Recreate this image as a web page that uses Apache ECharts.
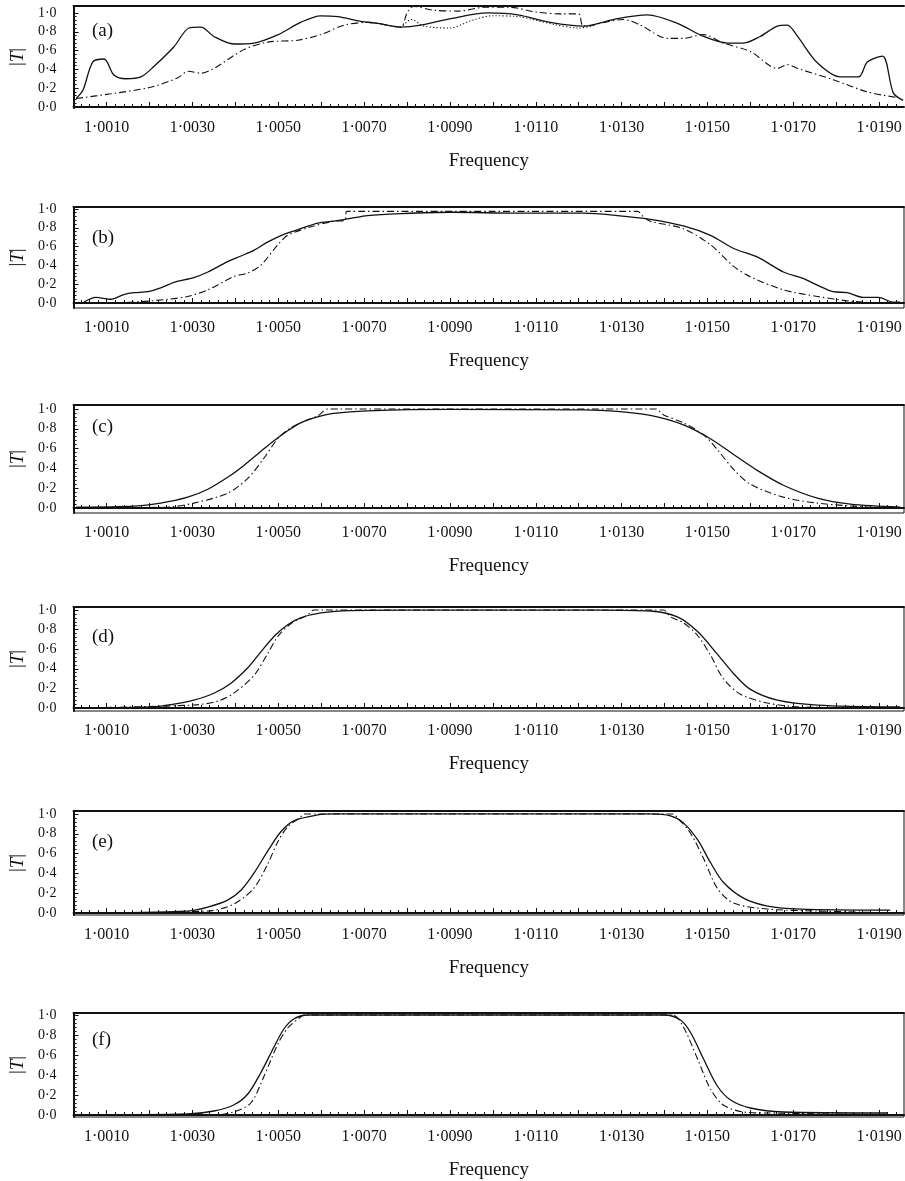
<!DOCTYPE html>
<html>
<head>
<meta charset="utf-8">
<script src="https://cdn.jsdelivr.net/npm/echarts@6/dist/echarts.min.js"></script>
<style>
html,body{margin:0;padding:0;background:#fff;}
#main{width:905px;height:1181px;}
</style>
</head>
<body>
<div id="main"></div>
<script>
// tick labels
var xTickLabels = [1.001, 1.003, 1.005, 1.007, 1.009, 1.011, 1.013, 1.015, 1.017, 1.019];
var xMajorTicks = [1.001, 1.002, 1.003, 1.004, 1.005, 1.006, 1.007, 1.008, 1.009, 1.010,
                   1.011, 1.012, 1.013, 1.014, 1.015, 1.016, 1.017, 1.018, 1.019];
var yTickLabels = [0, 0.2, 0.4, 0.6, 0.8, 1.0];
var panelNames = ['(a)', '(b)', '(c)', '(d)', '(e)', '(f)'];

// (a)
var aSolid = [[1.00029,0.09],[1.00045,0.18],[1.00068,0.48],[1.00094,0.51],[1.00117,0.34],[1.00145,0.30],[1.0018,0.32],[1.0021,0.43],[1.00257,0.64],[1.00292,0.84],[1.0032,0.85],[1.0035,0.75],[1.00396,0.67],[1.00443,0.68],[1.0050,0.77],[1.00552,0.90],[1.00599,0.97],[1.00639,0.96],[1.00692,0.91],[1.00732,0.89],[1.00785,0.85],[1.00832,0.87],[1.00902,0.94],[1.00988,1.00],[1.01058,0.98],[1.01134,0.90],[1.01211,0.86],[1.0129,0.94],[1.0136,0.98],[1.0143,0.89],[1.01491,0.75],[1.01547,0.68],[1.01584,0.68],[1.01623,0.75],[1.01663,0.86],[1.01686,0.87],[1.0171,0.75],[1.01756,0.47],[1.0181,0.32],[1.01852,0.32],[1.01873,0.48],[1.01908,0.54],[1.01933,0.15],[1.01956,0.07]];
var aDashDot = [[1.00029,0.09],[1.0011,0.14],[1.00203,0.21],[1.00266,0.31],[1.0029,0.38],[1.0032,0.36],[1.0035,0.41],[1.0042,0.61],[1.00476,0.69],[1.00545,0.71],[1.00599,0.77],[1.00653,0.87],[1.00708,0.90],[1.00785,0.85],[1.0080,1.0],[1.00815,1.07],[1.0086,1.03],[1.0092,1.02],[1.0098,1.06],[1.0104,1.06],[1.0110,1.01],[1.0116,0.99],[1.0120,0.99],[1.01211,0.86],[1.01304,0.93],[1.01344,0.87],[1.01407,0.73],[1.01444,0.73],[1.01491,0.77],[1.01537,0.68],[1.016,0.59],[1.01663,0.41],[1.01686,0.45],[1.0171,0.41],[1.01793,0.29],[1.01873,0.16],[1.01942,0.10]];
var aDotted = [[1.00785,0.84],[1.0081,0.93],[1.0084,0.86],[1.0090,0.84],[1.0095,0.92],[1.0100,0.97],[1.0106,0.96],[1.0114,0.88],[1.0120,0.84],[1.0124,0.87]];

// (b)
var bSolid = [[1.00047,0.01],[1.00075,0.06],[1.0011,0.04],[1.0014,0.09],[1.00164,0.11],[1.00196,0.12],[1.00226,0.16],[1.00257,0.22],[1.00303,0.27],[1.00336,0.33],[1.00382,0.44],[1.00413,0.50],[1.00443,0.56],[1.00476,0.65],[1.00513,0.73],[1.00552,0.79],[1.00592,0.85],[1.00629,0.87],[1.00669,0.90],[1.00708,0.93],[1.00785,0.95],[1.00902,0.965],[1.01058,0.955],[1.01211,0.955],[1.0129,0.93],[1.01367,0.89],[1.01444,0.82],[1.01507,0.72],[1.01561,0.58],[1.01616,0.49],[1.01677,0.33],[1.01724,0.26],[1.01756,0.19],[1.01793,0.12],[1.01826,0.11],[1.01863,0.06],[1.01898,0.06],[1.01933,0.01],[1.01949,0.01]];
var bDashDot = [[1.00047,0.0],[1.00164,0.01],[1.00243,0.04],[1.00289,0.07],[1.00336,0.14],[1.00396,0.28],[1.00429,0.32],[1.00459,0.40],[1.00499,0.62],[1.00522,0.72],[1.00576,0.81],[1.00629,0.87],[1.00655,0.88],[1.0066,0.975],[1.0070,0.975],[1.0100,0.975],[1.0130,0.975],[1.01337,0.975],[1.0135,0.92],[1.01367,0.87],[1.01444,0.79],[1.01507,0.62],[1.01561,0.39],[1.016,0.28],[1.01677,0.14],[1.01756,0.07],[1.01833,0.02],[1.0191,0.0]];

// (c)
var cSolid = [[1.00029,0.01],[1.00164,0.02],[1.00226,0.05],[1.00289,0.11],[1.00336,0.19],[1.00382,0.31],[1.0042,0.43],[1.00459,0.57],[1.0049,0.68],[1.00522,0.78],[1.00552,0.86],[1.00592,0.92],[1.00629,0.955],[1.00708,0.98],[1.00902,0.995],[1.01211,0.99],[1.0129,0.975],[1.01367,0.935],[1.01444,0.84],[1.01507,0.70],[1.01561,0.54],[1.01616,0.38],[1.01677,0.23],[1.01756,0.10],[1.01833,0.04],[1.01949,0.01]];
var cDashDot = [[1.00029,0.0],[1.00243,0.01],[1.00303,0.05],[1.00382,0.15],[1.00429,0.30],[1.00466,0.50],[1.00499,0.70],[1.00529,0.81],[1.00569,0.89],[1.00592,0.93],[1.00615,1.0],[1.0064,1.0],[1.0100,1.0],[1.0136,1.0],[1.0138,1.0],[1.01398,0.94],[1.01444,0.86],[1.01491,0.74],[1.01523,0.59],[1.01561,0.39],[1.016,0.24],[1.01677,0.11],[1.01756,0.05],[1.01873,0.01],[1.01949,0.0]];

// (d)
var dSolid = [[1.00029,0.0],[1.00203,0.01],[1.00257,0.04],[1.00303,0.08],[1.0035,0.15],[1.00389,0.25],[1.00429,0.41],[1.00459,0.57],[1.0049,0.73],[1.00522,0.85],[1.00552,0.92],[1.00599,0.97],[1.00669,0.995],[1.0080,1.0],[1.0125,1.0],[1.01367,0.99],[1.0143,0.93],[1.01477,0.78],[1.01523,0.55],[1.01561,0.35],[1.016,0.19],[1.01663,0.08],[1.01756,0.03],[1.01949,0.01]];
var dDashDot = [[1.00029,0.0],[1.00303,0.03],[1.00359,0.07],[1.00396,0.15],[1.00443,0.33],[1.00476,0.56],[1.00499,0.73],[1.00529,0.86],[1.00568,0.95],[1.00583,1.0],[1.0061,1.0],[1.0100,1.0],[1.0138,1.0],[1.01398,1.0],[1.01414,0.93],[1.01444,0.87],[1.01477,0.74],[1.01507,0.54],[1.01537,0.30],[1.01577,0.14],[1.0164,0.05],[1.01717,0.01],[1.01949,0.0]];

// (e)
var eSolid = [[1.00029,0.0],[1.00289,0.02],[1.00336,0.06],[1.00382,0.13],[1.00413,0.23],[1.00443,0.40],[1.00476,0.63],[1.00506,0.82],[1.00536,0.93],[1.00592,0.99],[1.00629,1.0],[1.0100,1.0],[1.01367,1.0],[1.01414,0.98],[1.01444,0.91],[1.01477,0.74],[1.01507,0.51],[1.01537,0.31],[1.01584,0.15],[1.0164,0.07],[1.01717,0.04],[1.01926,0.03]];
var eDashDot = [[1.00029,0.0],[1.00336,0.02],[1.00396,0.09],[1.00443,0.25],[1.00476,0.50],[1.00499,0.72],[1.00522,0.87],[1.00552,0.97],[1.0056,1.0],[1.0059,1.0],[1.0100,1.0],[1.0140,1.0],[1.0142,1.0],[1.0143,0.96],[1.0146,0.81],[1.01491,0.55],[1.01523,0.25],[1.01561,0.10],[1.0164,0.04],[1.01756,0.02],[1.01949,0.0]];

// (f)
var fSolid = [[1.00029,0.0],[1.00289,0.01],[1.0035,0.04],[1.00396,0.10],[1.00429,0.21],[1.00459,0.42],[1.0049,0.68],[1.00513,0.86],[1.00536,0.96],[1.00569,1.0],[1.0060,1.0],[1.0100,1.0],[1.0137,1.0],[1.0140,1.0],[1.01437,0.95],[1.0146,0.83],[1.01491,0.56],[1.01523,0.29],[1.01554,0.15],[1.016,0.07],[1.01677,0.03],[1.01919,0.02]];
var fDashDot = [[1.00029,0.0],[1.0035,0.0],[1.00396,0.03],[1.00436,0.12],[1.00466,0.38],[1.00499,0.71],[1.00522,0.87],[1.00552,0.98],[1.0056,1.0],[1.0059,1.0],[1.0100,1.0],[1.0140,1.0],[1.0142,1.0],[1.01444,0.88],[1.01477,0.56],[1.01507,0.26],[1.01537,0.10],[1.01584,0.03],[1.0164,0.02],[1.01949,0.0]];

var FONT = "'Liberation Serif','DejaVu Serif',serif";
var X_MIN = 1.00023, X_MAX = 1.01958;

// layout of the six panels (pixels) and their y ranges
var panels = [
  {top: 6,    height: 102, yMin: -0.011, yMax: 1.074, rightBorder: false, lines: [aSolid, aDashDot, aDotted]},
  {top: 207,  height: 101, yMin: -0.053, yMax: 1.021, rightBorder: true,  lines: [bSolid, bDashDot]},
  {top: 405,  height: 108, yMin: -0.05,  yMax: 1.04,  rightBorder: true,  lines: [cSolid, cDashDot]},
  {top: 607,  height: 104, yMin: -0.031, yMax: 1.031, rightBorder: true,  lines: [dSolid, dDashDot]},
  {top: 811,  height: 104, yMin: -0.02,  yMax: 1.03,  rightBorder: true,  lines: [eSolid, eDashDot]},
  {top: 1013, height: 104, yMin: -0.02,  yMax: 1.02,  rightBorder: true,  lines: [fSolid, fDashDot]}
];
var labelTops = [22, 229, 418, 628, 833, 1031];
var lineTypes = ['solid', [7, 3, 1.5, 3], [1.2, 2.2]];

var xMinor = [], yMinor = [];
for (var i = 0; i <= 96; i++) xMinor.push(1.0004 + i * 0.0002);
for (var j = 0; j <= 25; j++) yMinor.push(j * 0.04);

var grids = [], xAxes = [], yAxes = [], series = [], graphics = [];
panels.forEach(function (p, k) {
  grids.push({left: 73, right: 1, top: p.top, height: p.height,
    show: p.rightBorder, borderColor: '#111', borderWidth: 1});
  var xi = xAxes.length, yi = yAxes.length;
  // main x axis
  xAxes.push({gridIndex: k, type: 'value', min: X_MIN, max: X_MAX, position: 'bottom',
    name: 'Frequency', nameLocation: 'middle', nameGap: 44,
    nameTextStyle: {fontFamily: FONT, fontSize: 19, color: '#111'},
    axisLine: {show: true, lineStyle: {color: '#111', width: 2}},
    axisTick: {show: true, inside: true, length: 5, customValues: xMajorTicks, lineStyle: {color: '#111', width: 1}},
    axisLabel: {show: true, margin: 12, customValues: xTickLabels, fontFamily: FONT, fontSize: 16, color: '#111',
      formatter: function (v) { return v.toFixed(4).replace('.', '\u00b7'); }},
    splitLine: {show: false}});
  // minor x ticks
  xAxes.push({gridIndex: k, type: 'value', min: X_MIN, max: X_MAX, position: 'bottom',
    axisLine: {show: false},
    axisTick: {show: true, inside: true, length: 3, customValues: xMinor, lineStyle: {color: '#111', width: 1}},
    axisLabel: {show: false}, splitLine: {show: false}});
  // top border
  xAxes.push({gridIndex: k, type: 'value', min: X_MIN, max: X_MAX, position: 'top',
    axisLine: {show: true, lineStyle: {color: '#111', width: 2}},
    axisTick: {show: false}, axisLabel: {show: false}, splitLine: {show: false}});
  // main y axis
  yAxes.push({gridIndex: k, type: 'value', min: p.yMin, max: p.yMax, position: 'left',
    name: '{n||}{i|T}{n||}', nameLocation: 'middle', nameGap: 46, nameRotate: 90,
    nameTextStyle: {rich: {
      n: {fontFamily: FONT, fontSize: 19, color: '#111'},
      i: {fontFamily: FONT, fontSize: 19, fontStyle: 'italic', color: '#111'}}},
    axisLine: {show: true, lineStyle: {color: '#111', width: 2}},
    axisTick: {show: true, inside: true, length: 5, customValues: yTickLabels, lineStyle: {color: '#111', width: 1}},
    axisLabel: {show: true, margin: 17, customValues: yTickLabels, fontFamily: FONT, fontSize: 14, color: '#111',
      formatter: function (v) { return v.toFixed(1).replace('.', '\u00b7'); }},
    splitLine: {show: false}});
  // minor y ticks
  yAxes.push({gridIndex: k, type: 'value', min: p.yMin, max: p.yMax, position: 'left',
    axisLine: {show: false},
    axisTick: {show: true, inside: true, length: 3, customValues: yMinor, lineStyle: {color: '#111', width: 1}},
    axisLabel: {show: false}, splitLine: {show: false}});

  p.lines.forEach(function (d, s) {
    series.push({type: 'line', xAxisIndex: xi, yAxisIndex: yi, data: d,
      showSymbol: false, smooth: 0.3, silent: true,
      lineStyle: {color: '#111', width: s === 0 ? 1.3 : 1.1, type: lineTypes[s]},
      z: 3 - s});
  });

  graphics.push({type: 'text', left: 92, top: labelTops[k],
    style: {text: panelNames[k], fontFamily: FONT, fontSize: 19, fill: '#111'}});
});

var chart = echarts.init(document.getElementById('main'), null, {renderer: 'canvas'});
chart.setOption({
  animation: false,
  grid: grids,
  xAxis: xAxes,
  yAxis: yAxes,
  series: series,
  graphic: graphics
});
</script>
</body>
</html>
